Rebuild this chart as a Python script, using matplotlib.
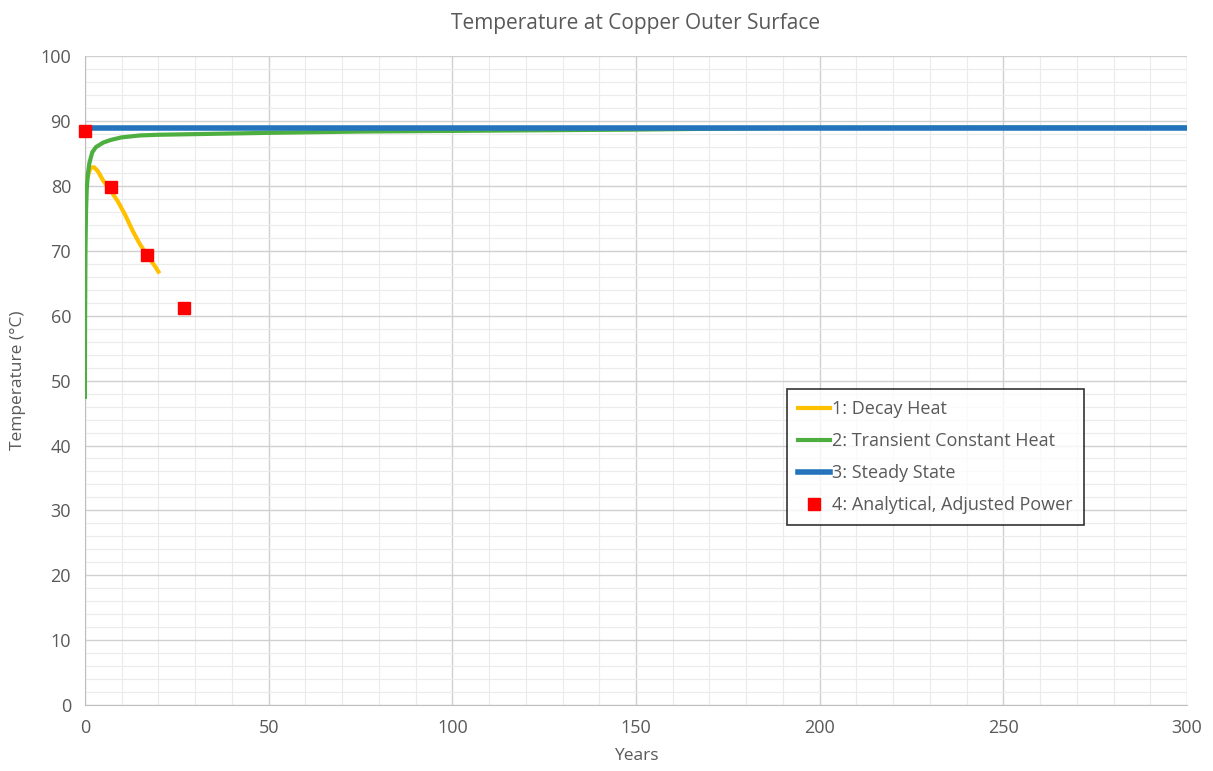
import matplotlib.pyplot as plt
import numpy as np

# series
decay_years = [0.8, 1.5, 2.5, 3.5, 5, 7, 9, 11, 13, 15, 17, 19, 20]
decay_temp = [81.5, 82.8, 82.9, 82.3, 80.8, 79.3, 77.6, 75.5, 73.1, 71.0, 69.3, 67.7, 66.8]

transient_years = [0, 0.05, 0.15, 0.3, 0.5, 0.8, 1.2, 2, 3, 5, 7, 10, 15, 20, 30, 50, 75, 100, 150, 190, 250, 300]
transient_temp = [47.5, 60, 70, 76, 79.5, 81.8, 83.5, 85.2, 86.0, 86.7, 87.1, 87.5, 87.8, 87.9, 88.0, 88.2, 88.4, 88.5, 88.7, 88.95, 89.0, 89.0]

steady_years = [0, 300]
steady_temp = [89.0, 89.0]

analytic_years = [0, 7, 17, 27]
analytic_temp = [88.5, 79.8, 69.4, 61.2]

grey = "#595959"
plt.rcParams['font.family'] = ['Open Sans', 'DejaVu Sans']

fig = plt.figure(figsize=(12.13, 7.71), dpi=100)
ax = fig.add_axes([0.070, 0.0856, 0.9086, 0.8414])

ax.plot(decay_years, decay_temp, color="#FFC000", lw=3, label="1: Decay Heat", zorder=3)
ax.plot(transient_years, transient_temp, color="#4DAF3F", lw=3, label="2: Transient Constant Heat", zorder=3)
ax.plot(steady_years, steady_temp, color="#2474BD", lw=4, label="3: Steady State", zorder=4)
ax.plot(analytic_years, analytic_temp, ls="none", marker="s", ms=9, color="#FF0000",
        label="4: Analytical, Adjusted Power", zorder=5, clip_on=False)

ax.set_xlim(0, 300)
ax.set_ylim(0, 100)
ax.set_xticks(np.arange(0, 301, 50))
ax.set_yticks(np.arange(0, 101, 10))
ax.set_xticks(np.arange(0, 301, 10), minor=True)
ax.set_yticks(np.arange(0, 101, 2), minor=True)
ax.grid(which="major", color="#D0D0D0", lw=1)
ax.grid(which="minor", color="#EBEBEB", lw=0.8)
ax.set_axisbelow(True)
ax.tick_params(which="both", length=0, labelsize=13, labelcolor=grey, pad=10)

for s in ["top", "right"]:
    ax.spines[s].set_visible(False)
ax.spines["left"].set_color("#BFBFBF")
ax.spines["bottom"].set_color("#BFBFBF")

ax.set_title("Temperature at Copper Outer Surface", fontsize=15, color=grey, pad=20)
ax.set_xlabel("Years", fontsize=12.5, color=grey, labelpad=8)
ax.set_ylabel("Temperature (°C)", fontsize=12.5, color=grey, labelpad=10)

leg = ax.legend(loc="upper left", bbox_to_anchor=(0.637, 0.487), borderaxespad=0, fontsize=13,
                frameon=True, fancybox=False, edgecolor="black", handlelength=1.8,
                handletextpad=0.1, labelspacing=0.78, borderpad=0.6, labelcolor=grey)
leg.get_frame().set_linewidth(1.2)

fig.savefig("out.png", dpi=100)
